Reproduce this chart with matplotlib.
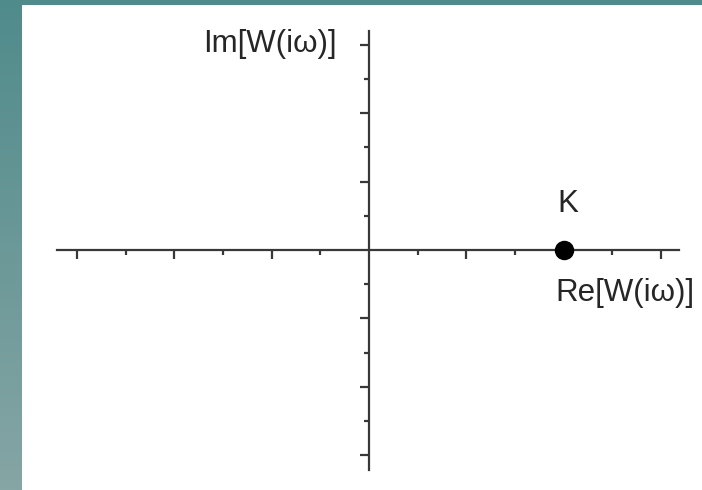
import matplotlib.pyplot as plt
import numpy as np

plt.rcParams['font.family'] = ['Liberation Sans', 'DejaVu Sans']

# point K on the real axis
k_re = [4]
k_im = [0]
k_label = 'K'

# tick positions along both axes
major_ticks = [-6, -4, -2, 2, 4, 6]
minor_ticks = [-5, -3, -1, 1, 3, 5]

re_label = 'Re[W(iω)]'
im_label = 'Im[W(iω)]'

axis_color = '#383838'
text_color = '#262626'

fig = plt.figure(figsize=(7.02, 4.90), dpi=100)

# slide frame: teal gradient strip on the left, plain strip on top
bg = fig.add_axes([0, 0, 1, 1], zorder=0)
bg.set_xlim(0, 702)
bg.set_ylim(490, 0)
bg.axis('off')
grad = np.linspace(0, 1, 256).reshape(-1, 1)
top_rgb = np.array([80, 139, 139]) / 255
bot_rgb = np.array([134, 165, 165]) / 255
img = top_rgb + grad[:, :, None] * (bot_rgb - top_rgb)
bg.imshow(img, extent=(0, 22, 490, 0), aspect='auto')
bg.add_patch(plt.Rectangle((0, 0), 702, 5, color=top_rgb, lw=0))

ax = fig.add_axes([0, 0, 1, 1], zorder=1)
ax.patch.set_alpha(0)
ax.set_xlim(-7.582, 6.842)
ax.set_ylim(-7.018, 7.310)

for side in ['top', 'right']:
    ax.spines[side].set_visible(False)
ax.spines['left'].set_position(('data', 0))
ax.spines['bottom'].set_position(('data', 0))
ax.spines['bottom'].set_bounds(-6.41, 6.37)
ax.spines['left'].set_bounds(-6.43, 6.40)
for side in ['left', 'bottom']:
    ax.spines[side].set_color(axis_color)
    ax.spines[side].set_linewidth(1.6)

ax.set_xticks(major_ticks)
ax.set_xticks(minor_ticks, minor=True)
ax.set_yticks(major_ticks)
ax.set_yticks(minor_ticks, minor=True)
ax.set_xticklabels([])
ax.set_yticklabels([])
ax.tick_params(which='major', direction='out', length=6.4, width=1.6, color=axis_color)
ax.tick_params(which='minor', direction='out', length=3.4, width=1.6, color=axis_color)

ax.plot(k_re, k_im, 'o', color='black', markersize=13, zorder=5, clip_on=False)
ax.text(k_re[0] - 0.12, 0.9, k_label, fontsize=22.5, ha='left', va='bottom', color=text_color)

ax.text(3.82, -1.27, re_label, fontsize=22.5, ha='left', va='center', color=text_color)
ax.text(-0.66, 6.03, im_label, fontsize=22.5, ha='right', va='center', color=text_color)

fig.savefig('out.png', dpi=100)
